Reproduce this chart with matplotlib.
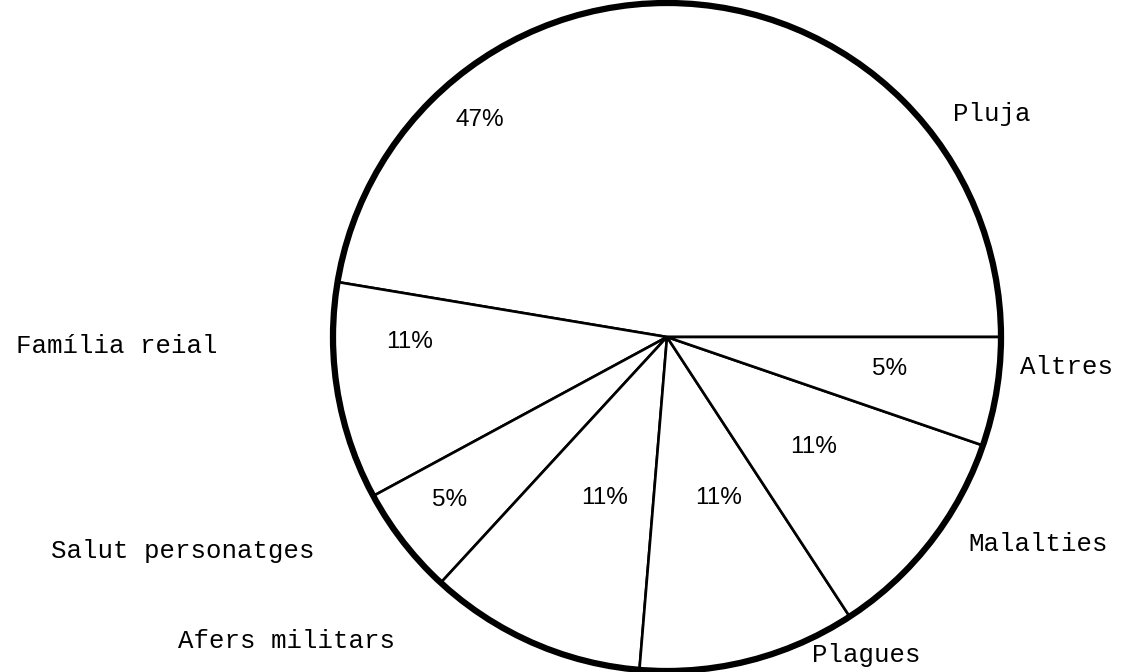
import numpy as np
import matplotlib
matplotlib.use('Agg')
import matplotlib.pyplot as plt

# dades (recomptes: 19 casos en total)
categories = ['Pluja', 'Família reial', 'Salut personatges', 'Afers militars',
              'Plagues', 'Malalties', 'Altres']
comptes = [9, 2, 1, 2, 2, 2, 1]

# posicions de les etiquetes (unitats del radi, centre del pastis = 0,0)
pos_etiq = [(0.973, 0.668), (-1.647, -0.027), (-1.45, -0.64), (-1.14, -0.91),
            (0.596, -0.952), (1.11, -0.62), (1.195, -0.09)]
pos_pct = [(-0.56, 0.65), (-0.772, -0.015), (-0.65, -0.488), (-0.186, -0.482),
           (0.153, -0.482), (0.44, -0.33), (0.665, -0.096)]

R = 334.0  # pixels per unitat
cx, cy = 667.0, 337.0
W, H = 1123, 672

fig = plt.figure(figsize=(W/100, H/100), dpi=100)
ax = fig.add_axes([0, 0, 1, 1])

wedges, _ = ax.pie(comptes, startangle=0, counterclock=True,
                   wedgeprops=dict(facecolor='white', edgecolor='black', linewidth=1.9))

# contorn exterior gruixut
ax.add_patch(plt.Circle((0, 0), 1.0, fill=False, edgecolor='black', linewidth=4.5, zorder=5))

total = sum(comptes)
for i, nom in enumerate(categories):
    ax.text(pos_etiq[i][0], pos_etiq[i][1], nom, ha='center', va='center',
            family='Liberation Mono', fontsize=18.5)
    ax.text(pos_pct[i][0], pos_pct[i][1], '%.0f%%' % (100.0*comptes[i]/total),
            ha='center', va='center', family='Liberation Sans', fontsize=17.5)

ax.set_xlim(-cx/R, (W-cx)/R)
ax.set_ylim(-(H-cy)/R, cy/R)
ax.set_aspect('equal', adjustable='box')
ax.axis('off')

fig.savefig('out.png', dpi=100, facecolor='white')
